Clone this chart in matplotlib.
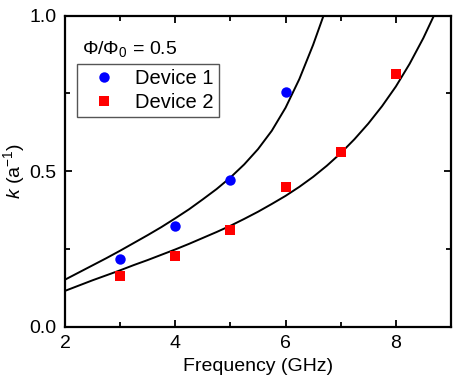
import matplotlib
matplotlib.use("Agg")
import matplotlib.pyplot as plt
from matplotlib.ticker import MultipleLocator, FormatStrFormatter

plt.rcParams['font.family'] = ['Liberation Sans', 'DejaVu Sans']
plt.rcParams['mathtext.fontset'] = 'custom'
plt.rcParams['mathtext.rm'] = 'Liberation Sans'
plt.rcParams['mathtext.it'] = 'Liberation Sans:italic'

# measured data
dev1_freq = [3, 4, 5, 6]
dev1_k = [0.219, 0.323, 0.472, 0.755]
dev2_freq = [3, 4, 5, 6, 7, 8]
dev2_k = [0.164, 0.228, 0.312, 0.450, 0.561, 0.813]

# theory curves
fit1_freq = [2.0, 2.25, 2.5, 2.75, 3.0, 3.25, 3.5, 3.75, 4.0, 4.25, 4.5, 4.75,
             5.0, 5.25, 5.5, 5.75, 6.0, 6.25, 6.5, 6.75]
fit1_k = [0.152, 0.175, 0.198, 0.221, 0.245, 0.270, 0.295, 0.321, 0.349, 0.378,
          0.410, 0.443, 0.480, 0.522, 0.571, 0.630, 0.704, 0.796, 0.906, 1.03]
fit2_freq = [2.0, 2.25, 2.5, 2.75, 3.0, 3.25, 3.5, 3.75, 4.0, 4.25, 4.5, 4.75,
             5.0, 5.25, 5.5, 5.75, 6.0, 6.25, 6.5, 6.75, 7.0, 7.25, 7.5, 7.75,
             8.0, 8.25, 8.5, 8.75]
fit2_k = [0.116, 0.133, 0.150, 0.166, 0.182, 0.199, 0.215, 0.232, 0.249, 0.267,
          0.286, 0.305, 0.325, 0.347, 0.370, 0.395, 0.421, 0.450, 0.482, 0.518,
          0.558, 0.603, 0.653, 0.709, 0.772, 0.845, 0.928, 1.022]

fig = plt.figure(figsize=(4.63, 3.89), dpi=100)
ax = fig.add_axes([0.1404, 0.1594, 0.8336, 0.8006])

ax.plot(fit1_freq, fit1_k, color='black', lw=1.4, zorder=2)
ax.plot(fit2_freq, fit2_k, color='black', lw=1.4, zorder=2)
ax.plot(dev1_freq, dev1_k, 'o', color='#0000ff', ms=7.5, mew=0, label='Device 1', zorder=3)
ax.plot(dev2_freq, dev2_k, 's', color='#ff0000', ms=6.8, mew=0, label='Device 2', zorder=3)

ax.set_xlim(2, 9)
ax.set_ylim(0, 1.0)
ax.xaxis.set_major_locator(MultipleLocator(2))
ax.xaxis.set_minor_locator(MultipleLocator(1))
ax.yaxis.set_major_locator(MultipleLocator(0.5))
ax.yaxis.set_minor_locator(MultipleLocator(0.25))
ax.yaxis.set_major_formatter(FormatStrFormatter('%.1f'))

ax.tick_params(which='both', direction='in', top=True, right=True, labelsize=14, width=1.3)
ax.tick_params(which='major', length=5, pad=6)
ax.tick_params(which='minor', length=3.5)
for s in ax.spines.values():
    s.set_linewidth(1.6)

ax.set_xlabel('Frequency (GHz)', fontsize=14, labelpad=4)
ax.set_ylabel(r'$k$ (a$^{-1}$)', fontsize=14, labelpad=2)

ax.text(0.043, 0.893, r'$\Phi/\Phi_0$ = 0.5', transform=ax.transAxes, fontsize=14,
        va='center', ha='left')
leg = ax.legend(loc='upper left', bbox_to_anchor=(0.031, 0.845), fontsize=14.5,
                frameon=True, fancybox=False, edgecolor='#555555', framealpha=1,
                handletextpad=0.45, borderpad=0.25, labelspacing=0.25, handlelength=2.2,
                borderaxespad=0)
leg.get_frame().set_linewidth(1.0)

fig.savefig('out.png', dpi=100)
